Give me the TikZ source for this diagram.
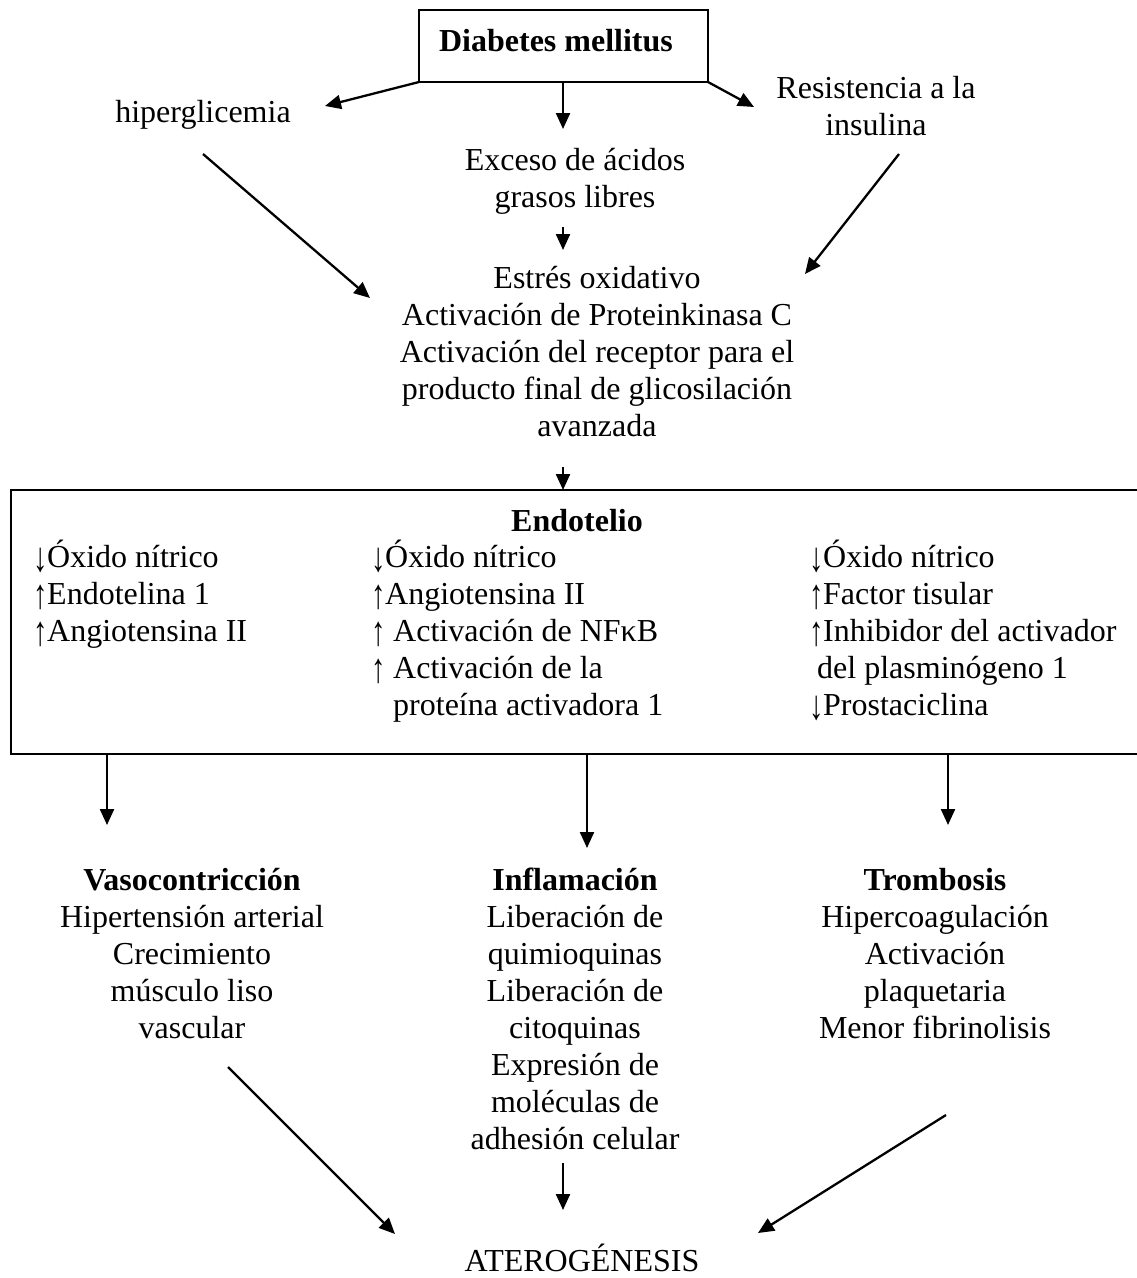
\documentclass[tikz,border=0pt]{standalone}
\usepackage{fontspec}
\usepackage{graphicx}
\setmainfont{Liberation Serif}
\usetikzlibrary{arrows.meta}
\newcommand{\fs}{\fontsize{32}{37}\selectfont}
\newcommand{\tl}{\rule{0pt}{30pt}}
\newcommand{\dn}{\makebox[14pt][l]{\raisebox{-4pt}{\scalebox{0.9}[1.3]{↓}}}}
\newcommand{\up}{\makebox[14pt][l]{\raisebox{-4pt}{\scalebox{0.9}[1.3]{↑}}}}
\tikzset{
  lbl/.style={inner sep=0pt, font=\fs, anchor=base},
  blk/.style={inner sep=0pt, font=\fs, align=center, anchor=north},
  colm/.style={inner sep=0pt, font=\fs, align=left, anchor=north west},
  arr/.style={line width=2.3pt, -{Triangle[length=16pt,width=14pt]}},
  frame/.style={draw, line width=2.2pt, inner sep=0pt}
}
\begin{document}
\begin{tikzpicture}[x=1pt,y=-1pt]
\useasboundingbox (0,0) rectangle (1137,1278);
% top box
\node[frame, minimum width=289pt, minimum height=72pt] (dmbox) at (563.5,46) {};
\node[lbl, font=\fs\bfseries] (dm) at (556,51) {Diabetes mellitus};
\node[lbl] (hip) at (203,122) {hiperglicemia};
\node[blk] (res) at (876,68) {\tl Resistencia a la\\insulina};
\node[blk] (exc) at (575,140) {\tl Exceso de ácidos\\grasos libres};
\node[blk] (est) at (597,258) {\tl Estrés oxidativo\\Activación de Proteinkinasa C\\Activación del receptor para el\\producto final de glicosilación\\avanzada};
% endotelio box
\node[frame, line width=2.6pt, minimum width=1140pt, minimum height=264pt] (endo) at (581,622) {};
\node[lbl, font=\fs\bfseries] (endt) at (577,531) {Endotelio};
\node[colm] (c1) at (33,537) {\tl \dn Óxido nítrico\\\up Endotelina 1\\\up Angiotensina II};
\node[colm] (c2) at (371,537) {\tl \dn Óxido nítrico\\\up Angiotensina II\\\up\ Activación de NFκB\\\up\ Activación de la\\\hspace*{0pt}\phantom{\up\ }proteína activadora 1};
\node[colm] (c3) at (809,537) {\tl \dn Óxido nítrico\\\up Factor tisular\\\up Inhibidor del activador\\\hspace*{8pt}del plasminógeno 1\\\dn Prostaciclina};
% bottom blocks
\node[blk] (vas) at (192,860) {\tl\textbf{Vasocontricción}\\Hipertensión arterial\\Crecimiento\\músculo liso\\vascular};
\node[blk] (inf) at (575,860) {\tl\textbf{Inflamación}\\Liberación de\\quimioquinas\\Liberación de\\citoquinas\\Expresión de\\moléculas de\\adhesión celular};
\node[blk] (tro) at (935,860) {\tl\textbf{Trombosis}\\Hipercoagulación\\Activación\\plaquetaria\\Menor fibrinolisis};
\node[lbl] (ate) at (582,1271) {ATEROGÉNESIS};
% connector end points
\coordinate (a1s) at (419,82);  \coordinate (a1e) at (325,106);
\coordinate (a2s) at (563,82);  \coordinate (a2e) at (563,129);
\coordinate (a3s) at (708,82);  \coordinate (a3e) at (754,107);
\coordinate (a4s) at (563,227); \coordinate (a4e) at (563,250);
\coordinate (a5s) at (203,154); \coordinate (a5e) at (370,298);
\coordinate (a6s) at (899,154); \coordinate (a6e) at (805,274);
\coordinate (a7s) at (563,467); \coordinate (a7e) at (563,490);
\coordinate (b1s) at (107,754); \coordinate (b1e) at (107,825);
\coordinate (b2s) at (587,754); \coordinate (b2e) at (587,848);
\coordinate (b3s) at (948,754); \coordinate (b3e) at (948,825);
\coordinate (d1s) at (228,1067); \coordinate (d1e) at (395,1234);
\coordinate (d2s) at (563,1163); \coordinate (d2e) at (563,1210);
\coordinate (d3s) at (946,1115); \coordinate (d3e) at (758,1233);
\foreach \s/\e in {a1s/a1e,a2s/a2e,a3s/a3e,a4s/a4e,a5s/a5e,a6s/a6e,a7s/a7e,b1s/b1e,b2s/b2e,b3s/b3e,d1s/d1e,d2s/d2e,d3s/d3e}
  \draw[arr] (\s) -- (\e);
\end{tikzpicture}
\end{document}
